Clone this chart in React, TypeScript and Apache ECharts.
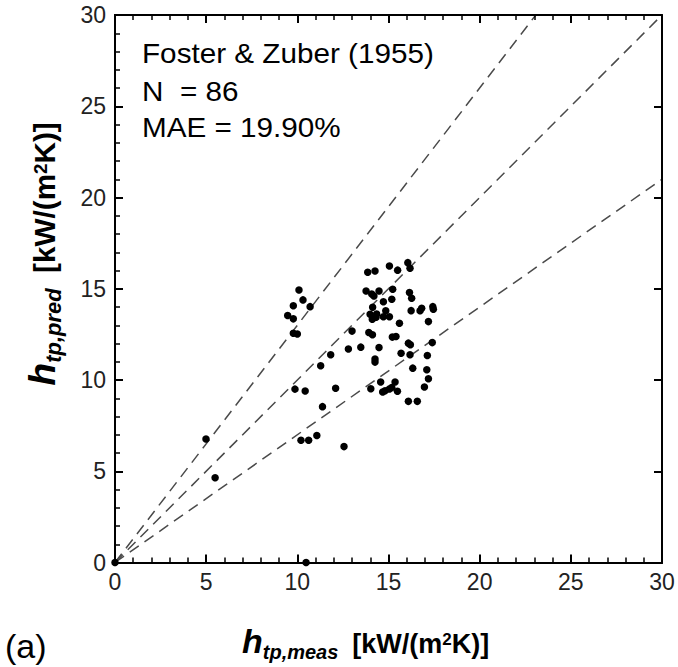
import React, { useEffect, useRef } from "react";
import * as echarts from "echarts";

// measured vs predicted heat transfer coefficient, kW/(m2K)
const xMeas = [
  13.86, 14.26, 15.05, 15.5, 16.06, 16.18,
  13.77, 14.08, 14.2, 14.48, 15.23, 16.15, 16.27,
  14.72, 15.18, 14.13,
  13.99, 14.35, 14.85,
  14.11, 14.32, 14.72, 15.05,
  16.24, 16.73, 16.82, 17.43, 17.46,
  15.6, 17.19,
  13.0, 13.92, 14.12,
  15.21, 15.41, 16.09, 16.2, 17.4,
  12.8, 13.48, 14.48,
  15.69, 16.18, 17.13,
  14.26, 14.26,
  16.33, 17.1, 17.19, 16.97,
  14.57, 15.36,
  14.03, 14.81, 15.05, 15.18, 15.49, 14.68,
  16.09, 16.58,
  4.99, 5.49,
  10.09, 9.78, 10.31, 10.7, 9.47, 9.78,
  9.78, 10.0,
  9.87, 10.43,
  11.28, 11.83, 11.38,
  10.2, 10.62, 11.07, 12.56, 12.1,
  10.48, 0,
];
const yPred = [
  15.9, 15.97, 16.25, 16.02, 16.43, 16.12,
  14.88, 14.71, 14.6, 14.88, 14.97, 14.79, 14.48,
  14.29, 14.42, 13.99,
  13.6, 13.62, 13.79,
  13.33, 13.44, 13.47, 13.47,
  13.8, 13.79, 13.93, 14.02, 13.88,
  13.11, 13.2,
  12.68, 12.6, 12.48,
  12.35, 12.38, 12.02, 11.93, 12.05,
  11.7, 11.8, 11.78,
  11.47, 11.38, 11.34,
  11.15, 10.98,
  10.65, 10.56, 10.07, 9.62,
  9.89, 9.89,
  9.52, 9.41, 9.51, 9.59, 9.38, 9.34,
  8.83, 8.83,
  6.77, 4.64,
  14.93, 14.07, 14.39, 14.02, 13.53, 13.35,
  12.56, 12.52,
  9.5, 9.4,
  10.78, 11.38, 8.54,
  6.7, 6.7, 6.96, 6.35, 9.55,
  0, 0,
];
// reference lines: y = k * x  (+30 %, parity, -30 %)
const ratioLines = [1.3, 1.0, 0.7];
const axisMin = 0;
const axisMax = 30;
const axisStep = 5;
const infoLines = ["Foster & Zuber (1955)", "N  = 86", "MAE = 19.90%"];
const panelLabel = "(a)";

const FONT = '"Liberation Sans", Arial, Helvetica, sans-serif';

function gridBox() {
  return { left: 115, right: 16, top: 15, bottom: 104.5 };
}

function richLabel(sub: string) {
  return {
    text: `{h|h}{s|${sub}}{n|[kW/(m}{p|2}{m|K)]}`,
    rich: {
      h: { fontSize: 34, fontWeight: "bold", fontStyle: "italic", fontFamily: FONT, fill: "#000", padding: [0, 0, 4, 0], verticalAlign: "bottom" },
      s: { fontSize: 20, fontWeight: "bold", fontStyle: "italic", fontFamily: FONT, fill: "#000", verticalAlign: "bottom" },
      n: { fontSize: 27, fontWeight: "bold", fontFamily: FONT, fill: "#000", padding: [0, 0, 5, 14], verticalAlign: "bottom" },
      m: { fontSize: 27, fontWeight: "bold", fontFamily: FONT, fill: "#000", padding: [0, 0, 5, 0], verticalAlign: "bottom" },
      p: { fontSize: 17, fontWeight: "bold", fontFamily: FONT, fill: "#000", padding: [7, 0, 0, 0], verticalAlign: "top" },
    },
  };
}

// main chart axes: line + labels
function labelAxis(position: string, margin: number) {
  return {
    type: "value",
    min: axisMin,
    max: axisMax,
    interval: axisStep,
    position,
    axisLine: { show: true, onZero: false, lineStyle: { color: "#000", width: 2 } },
    axisTick: { show: false },
    minorTick: { show: false },
    splitLine: { show: false },
    axisLabel: { show: true, fontSize: 23, color: "#222", fontFamily: FONT, margin },
  };
}

// frame axes: line + inward ticks, no labels
function frameAxis(position: string, showMinor: boolean, color: string) {
  return {
    type: "value",
    min: axisMin,
    max: axisMax,
    interval: axisStep,
    position,
    axisLine: { show: true, onZero: false, lineStyle: { color: "#000", width: 2 } },
    axisTick: { show: true, inside: true, length: 8, lineStyle: { color, width: 2 } },
    minorTick: { show: showMinor, splitNumber: 5, length: 5, lineStyle: { color, width: 1.5 } },
    splitLine: { show: false },
    axisLabel: { show: false },
  };
}

export default function App() {
  const mainRef = useRef<HTMLDivElement>(null);
  const frameRef = useRef<HTMLDivElement>(null);
  const textRef = useRef<HTMLDivElement>(null);
  useEffect(() => {
    const charts: any[] = [];
    // frame (box + inward ticks)
    try {
      if (frameRef.current) {
        const frame = echarts.init(frameRef.current, null, { renderer: "svg" });
        charts.push(frame);
        frame.setOption({
          animation: false,
          grid: gridBox(),
          xAxis: [frameAxis("bottom", true, "black"), frameAxis("top", true, "black")],
          yAxis: [frameAxis("left", true, "black"), frameAxis("right", false, "black")],
          series: [{ type: "scatter", data: [[-5, -5]], symbolSize: 0, silent: true }],
        });
      }
    } catch (e) {
      console.error(e);
    }
    // data + tick labels
    try {
      if (mainRef.current) {
        const chart = echarts.init(mainRef.current, null, { renderer: "svg" });
        charts.push(chart);
        const lineSeries = ratioLines.map((k) => ({
          type: "line",
          data: [
            [0, 0],
            [Math.min(axisMax, axisMax / k), Math.min(axisMax, axisMax * k)],
          ],
          symbol: "none",
          silent: true,
          lineStyle: { color: "#4a4a4a", width: 1.5, type: [11, 7] },
          z: 2,
        }));
        chart.setOption({
          animation: false,
          grid: gridBox(),
          xAxis: [labelAxis("bottom", 8)],
          yAxis: [labelAxis("left", 9)],
          series: [
            ...lineSeries,
            {
              type: "scatter",
              data: xMeas.map((x, i) => [x, yPred[i]]),
              symbol: "circle",
              symbolSize: 7.5,
              itemStyle: { color: "#000", opacity: 1 },
              clip: false,
              z: 3,
            },
          ],
        });
      }
    } catch (e) {
      console.error(e);
    }
    // texts
    try {
      if (textRef.current) {
        const txt = echarts.init(textRef.current, null, { renderer: "svg" });
        charts.push(txt);
        txt.setOption({
          animation: false,
          graphic: [
            ...infoLines.map((t, i) => ({
              type: "text",
              x: 142,
              y: [53.6, 91.6, 127.6][i],
              scaleX: 1.06,
              style: { text: t, fontSize: 28, fontFamily: FONT, fill: "#000", verticalAlign: "middle", align: "left" },
            })),
            {
              type: "text",
              x: 242,
              y: 662,
              style: { ...richLabel("tp,meas"), align: "left", verticalAlign: "bottom" },
            },
            {
              type: "text",
              x: 44,
              y: 254,
              rotation: Math.PI / 2,
              scaleX: 1.1,
              scaleY: 1.1,
              style: { ...richLabel("tp,pred"), align: "center", verticalAlign: "middle" },
            },
            {
              type: "text",
              x: 5,
              y: 646,
              style: { text: panelLabel, fontSize: 34, fontFamily: FONT, fill: "#000", verticalAlign: "middle", align: "left" },
            },
          ],
        });
      }
    } catch (e) {
      console.error(e);
    }
    return () => {
      charts.forEach((c) => c.dispose());
    };
  }, []);
  const layer: React.CSSProperties = { position: "absolute", left: 0, top: 0, width: 678, height: 667 };
  return (
    <div style={layer}>
      <div ref={mainRef} style={layer} />
      <div ref={frameRef} style={{ ...layer, pointerEvents: "none" }} />
      <div ref={textRef} style={{ ...layer, pointerEvents: "none" }} />
    </div>
  );
}
